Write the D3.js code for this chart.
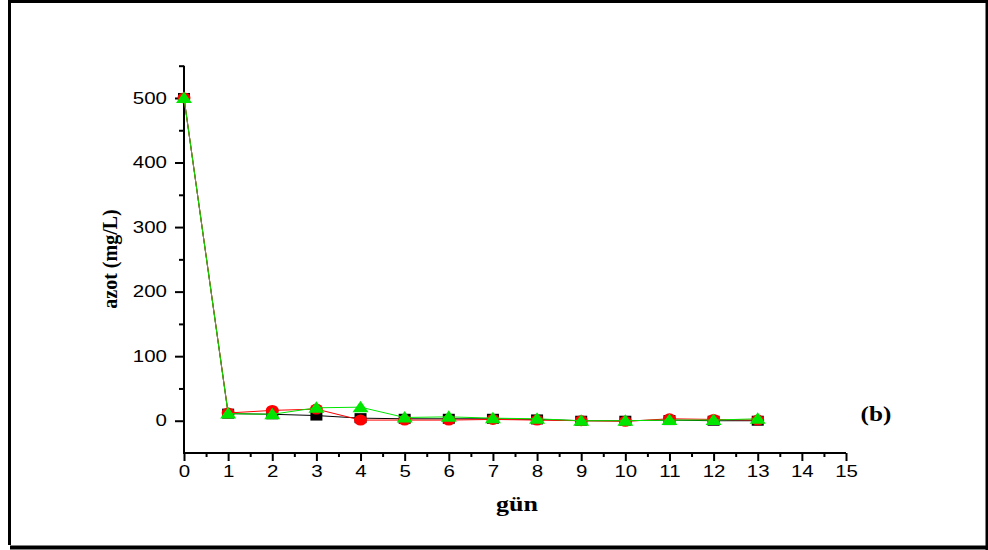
<!DOCTYPE html>
<html>
<head>
<meta charset="utf-8">
<script src="https://cdn.jsdelivr.net/npm/d3@7"></script>
<style>
  html, body { margin: 0; padding: 0; background: #fff; }
  svg { display: block; }
</style>
</head>
<body>
<svg id="chart" width="988" height="550"></svg>
<script>
// Nitrogen (azot) concentration per day for three runs
const days = [0, 1, 2, 3, 4, 5, 6, 7, 8, 9, 10, 11, 12, 13];
const seriesBlack = [500, 11, 10, 8, 4, 3, 3, 3, 2, 0, 0, 1, 0, 0];
const seriesRed   = [500, 12, 16, 18, 1, 1, 1, 2, 1, 0, -1, 3, 2, 1];
const seriesGreen = [500, 11, 10, 20, 21, 5, 6, 4, 3, 0, 0, 1, 1, 3];
const xTicks = d3.range(0, 16);
const xMinorTicks = d3.range(0.5, 15, 1);
const yTicks = [0, 100, 200, 300, 400, 500];
const yMinorTicks = [50, 150, 250, 350, 450, 550];
const xTitle = "gün";
const yTitle = "azot (mg/L)";
const panelLabel = "(b)";

const svg = d3.select("#chart");

// outer frame
svg.append("line").attr("x1", 9.5).attr("y1", 0).attr("x2", 9.5).attr("y2", 545).attr("stroke", "#000").attr("stroke-width", 3);
svg.append("line").attr("x1", 8).attr("y1", 1.5).attr("x2", 988).attr("y2", 1.5).attr("stroke", "#000").attr("stroke-width", 3);
svg.append("line").attr("x1", 987).attr("y1", 0).attr("x2", 987).attr("y2", 550).attr("stroke", "#000").attr("stroke-width", 3);
svg.append("line").attr("x1", 10).attr("y1", 547.5).attr("x2", 988).attr("y2", 547.5).attr("stroke", "#000").attr("stroke-width", 4);

const x = d3.scaleLinear().domain([0, 15]).range([184, 846]);
const y = d3.scaleLinear().domain([-50, 550]).range([453, 65.7]);

// horizontally widen a text element around its anchor point
function widen(sel, k) {
  sel.each(function () {
    const t = d3.select(this);
    const tx = +t.attr("x") || 0;
    t.attr("transform", `translate(${tx},0) scale(${k},1) translate(${-tx},0)`);
  });
}

// x axis
const gx = svg.append("g").attr("transform", `translate(0,${y(-50)})`);
gx.call(d3.axisBottom(x).tickValues(xTicks).tickSize(8).tickPadding(5).tickFormat(d3.format("d")));
const gxm = svg.append("g").attr("transform", `translate(0,${y(-50)})`);
gxm.call(d3.axisBottom(x).tickValues(xMinorTicks).tickSize(4).tickFormat(""));

// y axis
const gy = svg.append("g").attr("transform", `translate(${x(0)},0)`);
gy.call(d3.axisLeft(y).tickValues(yTicks).tickSize(9).tickPadding(8).tickFormat(d3.format("d")));
const gym = svg.append("g").attr("transform", `translate(${x(0)},0)`);
gym.call(d3.axisLeft(y).tickValues(yMinorTicks).tickSize(5).tickFormat(""));

[gx, gxm, gy, gym].forEach(g => {
  g.selectAll("path.domain").remove();
  g.selectAll(".tick line").attr("stroke", "#000").attr("stroke-width", 2);
  g.selectAll("text")
    .attr("font-family", "'Liberation Sans', Arial, sans-serif")
    .attr("font-size", 16)
    .attr("fill", "#000");
});
// axis lines drawn explicitly so they meet at the corner
svg.append("line").attr("x1", x(0)).attr("x2", x(15)).attr("y1", y(-50)).attr("y2", y(-50)).attr("stroke", "#000").attr("stroke-width", 2);
svg.append("line").attr("x1", x(0)).attr("x2", x(0)).attr("y1", y(-50) + 1).attr("y2", y(550)).attr("stroke", "#000").attr("stroke-width", 2);
gx.selectAll("text").call(widen, 1.28);
gy.selectAll("text").call(widen, 1.28);

// series: lines then markers
const line = d3.line().x((d, i) => x(days[i])).y(d => y(d));

function drawSeries(values, color, shape) {
  svg.append("path").datum(values)
    .attr("d", line).attr("fill", "none").attr("stroke", color).attr("stroke-width", 1);
  const g = svg.append("g");
  values.forEach((v, i) => {
    const cx = x(days[i]), cy = y(v);
    if (shape === "square") {
      g.append("rect").attr("x", cx - 6).attr("y", cy - 5).attr("width", 12).attr("height", 10).attr("fill", color);
    } else if (shape === "circle") {
      g.append("ellipse").attr("cx", cx).attr("cy", cy).attr("rx", 6.5).attr("ry", 5.5).attr("fill", color);
    } else {
      g.append("path").attr("d", `M${cx},${cy - 6.5}L${cx + 8},${cy + 5}L${cx - 8},${cy + 5}Z`).attr("fill", color);
    }
  });
}
drawSeries(seriesBlack, "#000000", "square");
drawSeries(seriesRed, "#ff0000", "circle");
drawSeries(seriesGreen, "#00e600", "triangle");

// titles
const serif = "'Liberation Serif', 'Times New Roman', serif";
svg.append("text").attr("x", 517).attr("y", 511)
  .attr("text-anchor", "middle").attr("font-family", serif).attr("font-weight", "bold").attr("font-size", 20)
  .text(xTitle).call(widen, 1.3);

svg.append("text")
  .attr("transform", "translate(117,259) rotate(-90)")
  .attr("text-anchor", "middle").attr("font-family", serif).attr("font-weight", "bold").attr("font-size", 20)
  .text(yTitle);

svg.append("text").attr("x", 876).attr("y", 421)
  .attr("text-anchor", "middle").attr("font-family", serif).attr("font-weight", "bold").attr("font-size", 21)
  .text(panelLabel).call(widen, 1.2);
</script>
</body>
</html>
